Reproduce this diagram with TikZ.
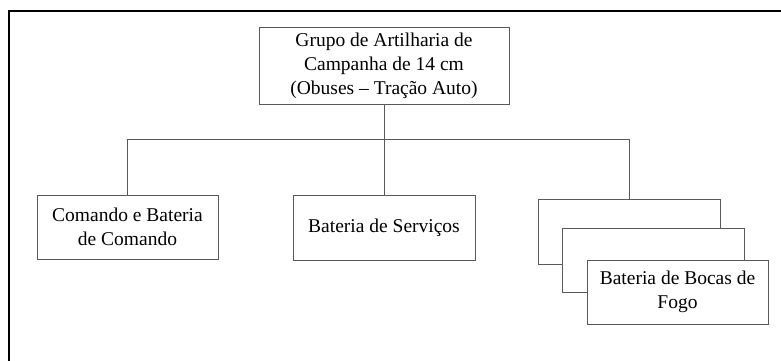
\documentclass[tikz,border=0pt]{standalone}
\usepackage{fontspec}
\setmainfont{Liberation Serif}
\begin{document}
\begin{tikzpicture}[x=1pt,y=-1pt,
  orgbox/.style={draw=black!65,line width=0.9pt,fill=white,rectangle,align=center,
    inner sep=0pt,font=\fontsize{19.5}{24}\selectfont},
  link/.style={draw=black!65,line width=0.8pt}]
\useasboundingbox (0,0) rectangle (781,361);
\draw[line width=2pt,black] (9,361) -- (9,11) -- (781,11);
\node[orgbox,minimum width=250pt,minimum height=77pt] (top) at (384,65.5)
  {Grupo de Artilharia de\\Campanha de 14 cm\\(Obuses -- Tração Auto)};
\node[orgbox,minimum width=181pt,minimum height=64pt] (cmd) at (127.5,227)
  {Comando e Bateria\\de Comando};
\node[orgbox,minimum width=182pt,minimum height=65pt] (srv) at (384,227.5)
  {Bateria de Serviços};
\node[orgbox,minimum width=182pt,minimum height=65pt] (b1) at (629,231.5) {};
\node[orgbox,minimum width=182pt,minimum height=64pt] (b2) at (653,260) {};
\node[orgbox,minimum width=181pt,minimum height=64pt] (b3) at (677.5,292)
  {Bateria de Bocas de\\Fogo};
\coordinate (j) at (384,139);
\draw[link] (top.south) -- (srv.north);
\draw[link] (cmd.north) -- (cmd.north |- j) -- (b1.north |- j) -- (b1.north);
\end{tikzpicture}
\end{document}
